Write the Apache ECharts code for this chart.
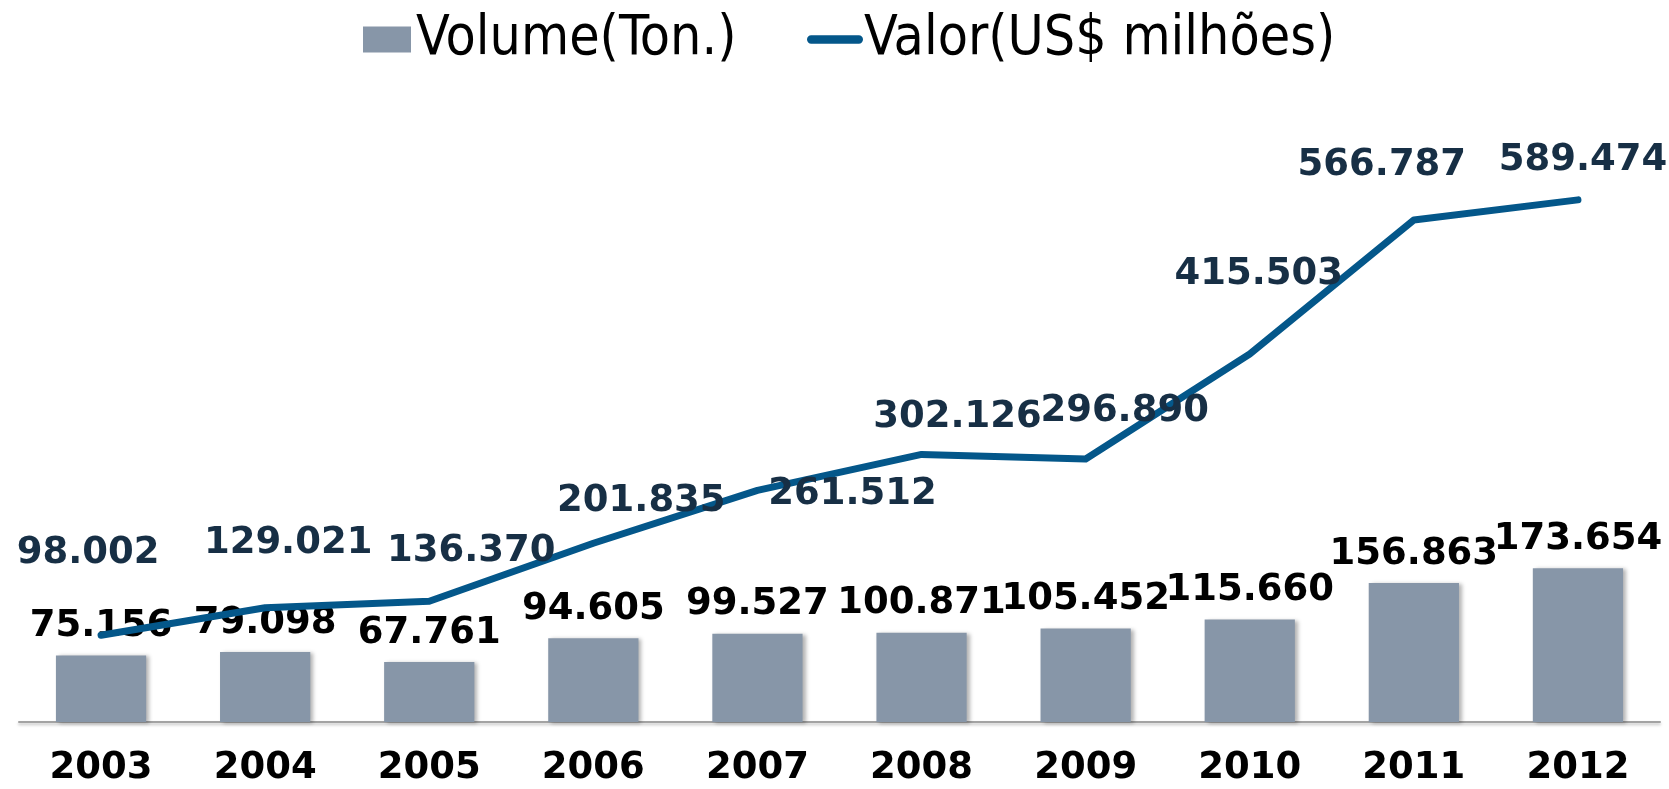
<!DOCTYPE html>
<html>
<head>
<meta charset="utf-8">
<script src="https://cdn.jsdelivr.net/npm/echarts@6/dist/echarts.min.js"></script>
<style>
  html, body { margin: 0; padding: 0; background: #fff; }
  #chart { width: 1669px; height: 789px; }
</style>
</head>
<body>
<div id="chart"></div>
<script>
// dados
const anos = ['2003', '2004', '2005', '2006', '2007', '2008', '2009', '2010', '2011', '2012']
const volume = [75.156, 79.098, 67.761, 94.605, 99.527, 100.871, 105.452, 115.660, 156.863, 173.654]
const valor = [98.002, 129.021, 136.370, 201.835, 261.512, 302.126, 296.890, 415.503, 566.787, 589.474]

// deslocamento dos rótulos da linha (como no original)
const valorLabelOffsets = [
  [-13, -82], [23, -64], [42, -50], [48, -42], [95, 4],
  [36, -37], [39, -48], [9, -80], [-32, -55], [5, -40]
]

const fmt = v => v.toFixed(3)

const chart = echarts.init(document.getElementById('chart'))

const legendText = {
  fontFamily: '"DejaVu Sans Condensed", "DejaVu Sans", sans-serif',
  fontSize: 55,
  color: '#000'
}

const option = {
  animation: false,
  legend: [
    {
      data: [{ name: 'Volume(Ton.)', icon: 'rect' }],
      left: 358,
      top: 7,
      itemWidth: 48,
      itemHeight: 26,
      textStyle: legendText
    },
    {
      data: [{
        name: 'Valor(US$ milhões)',
        icon: 'path://M4,0 L50,0 A4,4 0 0 1 50,8 L4,8 A4,4 0 0 1 4,0 Z',
        itemStyle: { color: '#04578a' }
      }],
      left: 802,
      top: 7,
      itemWidth: 56,
      itemHeight: 26,
      itemGap: 0,
      textStyle: Object.assign({}, legendText, { padding: [0, 0, 0, -4] })
    }
  ],
  grid: {
    left: 19,
    right: 9,
    top: 102,
    bottom: 67,
    containLabel: false
  },
  xAxis: {
    type: 'category',
    data: anos,
    axisTick: { show: false },
    axisLine: {
      lineStyle: { color: '#a3a3a3', width: 2, shadowColor: 'rgba(0,0,0,0.25)', shadowBlur: 3, shadowOffsetY: 2 }
    },
    axisLabel: {
      margin: 26,
      fontFamily: '"DejaVu Sans", Verdana, sans-serif',
      fontWeight: 'bold',
      fontSize: 37,
      lineHeight: 40,
      color: '#000'
    }
  },
  yAxis: {
    type: 'value',
    min: 0,
    max: 700,
    show: false,
    splitLine: { show: false }
  },
  series: [
    {
      name: 'Volume(Ton.)',
      type: 'bar',
      data: volume,
      barWidth: '55%',
      itemStyle: {
        color: '#8796a8',
        shadowColor: 'rgba(0,0,0,0.3)',
        shadowBlur: 4,
        shadowOffsetX: 3,
        shadowOffsetY: 1
      },
      label: {
        show: true,
        position: 'top',
        distance: 9,
        formatter: p => fmt(p.value),
        fontFamily: '"DejaVu Sans", Verdana, sans-serif',
        fontWeight: 'bold',
        fontSize: 37,
        lineHeight: 40,
        color: '#000'
      }
    },
    {
      name: 'Valor(US$ milhões)',
      type: 'line',
      data: valor.map((v, i) => ({
        value: v,
        label: { offset: valorLabelOffsets[i] }
      })),
      symbol: 'circle',
      symbolSize: 2,
      lineStyle: { color: '#04578a', width: 7, cap: 'round', join: 'round' },
      itemStyle: { color: '#04578a' },
      label: {
        show: true,
        position: 'inside',
        formatter: p => fmt(p.value),
        fontFamily: '"DejaVu Sans", Verdana, sans-serif',
        fontWeight: 'bold',
        fontSize: 37,
        lineHeight: 40,
        color: '#172f45'
      },
      z: 3
    }
  ]
}

chart.setOption(option)
</script>
</body>
</html>
